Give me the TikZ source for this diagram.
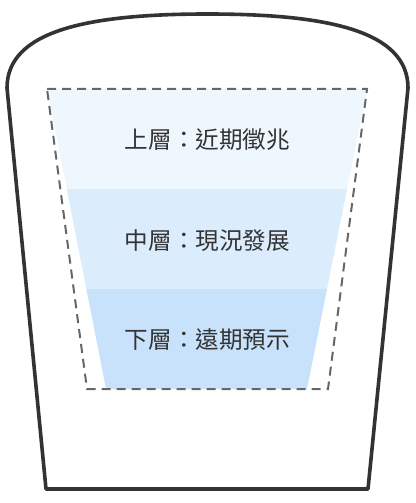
\documentclass[tikz,border=0pt]{standalone}
\usepackage{fontspec}
\setmainfont{Noto Sans CJK TC}
\definecolor{cupline}{HTML}{333333}
\definecolor{dashline}{HTML}{666666}
\definecolor{bandtop}{HTML}{EFF7FE}
\definecolor{bandmid}{HTML}{DBEDFC}
\definecolor{bandbot}{HTML}{C7E2FA}
\definecolor{labeltext}{HTML}{333333}

\begin{document}
\begin{tikzpicture}[x=0.75pt,y=-0.75pt,
    layer/.style ={text=labeltext, font=\fontsize{17.7}{20}\selectfont, inner sep=0pt}]
   \useasboundingbox (0,0) rectangle (416,503);

   % bands
   \fill[bandtop] (47,89) -- (367,89) -- (347,189) -- (66.7,189) -- cycle;
   \fill[bandmid] (66.7,189) -- (347,189) -- (327,289) -- (86.4,289) -- cycle;
   \fill[bandbot] (86.4,289) -- (327,289) -- (307,389) -- (106,389) -- cycle;

   % dashed frame
   \draw[dashline, line width=1.5pt, dash pattern=on 6.75pt off 4.5pt]
     (47,89) -- (367,89) -- (328,389) -- (87,389) -- cycle;

   % cup
   \draw[cupline, line width=2.7pt, line join=round]
     (46,489) -- (7,88) .. controls (7,30) and (90,14) .. (207.5,14)
     .. controls (325,14) and (408,30) .. (408,88) -- (368,489) -- cycle;

   \node[layer] (top) at (207.5,140) {上層：近期徵兆};
   \node[layer] (mid) at (207.5,241) {中層：現況發展};
   \node[layer] (bot) at (207.5,340) {下層：遠期預示};
 \end{tikzpicture}
\end{document}
